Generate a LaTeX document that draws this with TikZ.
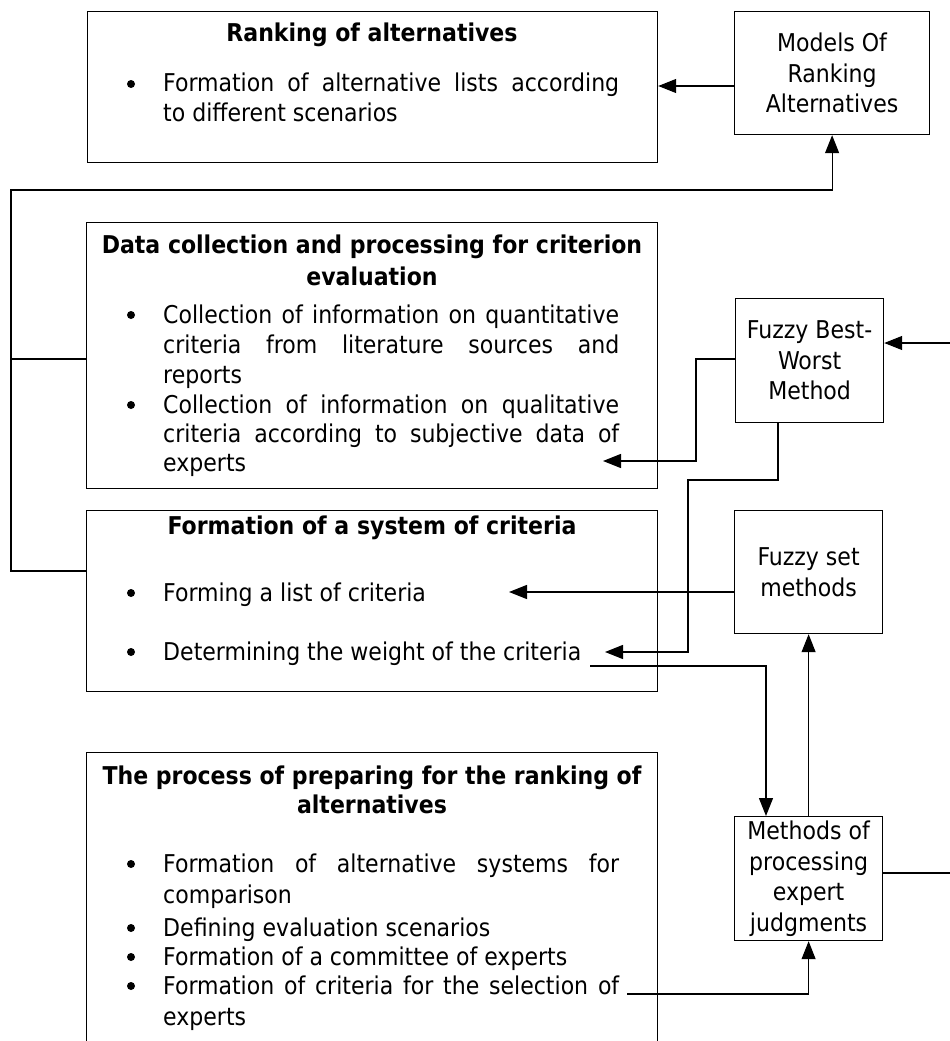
\documentclass[tikz,border=0pt]{standalone}
\usepackage{fontspec}
\setmainfont{DejaVu Sans Condensed}
\usetikzlibrary{arrows.meta}
\begin{document}
\begin{tikzpicture}[x=1pt,y=-1pt,
  box/.style={draw, line width=1.2pt, inner sep=0pt, anchor=north west},
  small/.style={box, minimum width=148pt, align=center,
    font=\fontsize{24.5}{30.5}\selectfont},
  conn/.style={line width=1.2pt},
  arr/.style={conn, -{Triangle[length=18pt,width=14pt]}},
  ttl/.style={inner sep=0pt, anchor=base, font=\bfseries\fontsize{24.5}{29}\selectfont},
  txt/.style={inner sep=0pt, anchor=base west, font=\fontsize{24.5}{29}\selectfont},
  dot/.style={circle, fill, inner sep=0pt, minimum size=8pt}]
\useasboundingbox (0,0) rectangle (950,1041);
\clip (0,0) rectangle (950,1041);

% main process boxes
\node[box, minimum width=570pt, minimum height=151pt] (rk) at (87,11) {};
\node[box, minimum width=571pt, minimum height=266pt] (dc) at (86,222) {};
\node[box, minimum width=571pt, minimum height=181pt] (fs) at (86,510) {};
\node[box, minimum width=571pt, minimum height=320pt] (pp) at (86,752) {};

% method boxes
\node[small, minimum width=195pt, minimum height=123pt] (mdl) at (734,11) {Models Of\\Ranking\\Alternatives};
\node[small, minimum height=124pt] (fbw) at (735,298) {Fuzzy Best-\\Worst\\Method};
\node[small, minimum height=123pt] (fsm) at (734,510) {Fuzzy set\\methods};
\node[small, minimum height=124pt] (mpe) at (734,816) {Methods of\\processing\\expert\\judgments};

% Ranking of alternatives
\node[ttl] (rkT) at (372,42) {Ranking of alternatives};
\node[dot] (rkB1) at (131,84) {};
\node[txt] (rkL1) at (163,92) {\makebox[456pt][s]{Formation of alternative lists according}};
\node[txt] (rkL2) at (163,121) {to different scenarios};

% Data collection
\node[ttl] (dcT1) at (372,253) {Data collection and processing for criterion};
\node[ttl] (dcT2) at (372,285) {evaluation};
\node[dot] (dcB1) at (131,315) {};
\node[txt] (dcL1) at (163,323) {\makebox[456pt][s]{Collection of information on quantitative}};
\node[txt] (dcL2) at (163,353) {\makebox[456pt][s]{criteria from literature sources and}};
\node[txt] (dcL3) at (163,383) {reports};
\node[dot] (dcB2) at (131,405) {};
\node[txt] (dcL4) at (163,413) {\makebox[456pt][s]{Collection of information on qualitative}};
\node[txt] (dcL5) at (163,442) {\makebox[456pt][s]{criteria according to subjective data of}};
\node[txt] (dcL6) at (163,471) {experts};

% Formation of a system of criteria
\node[ttl] (fsT) at (372,534) {Formation of a system of criteria};
\node[dot] (fsB1) at (131,593) {};
\node[txt] (fsL1) at (163,601) {Forming a list of criteria};
\node[dot] (fsB2) at (131,652) {};
\node[txt] (fsL2) at (163,660) {Determining the weight of the criteria};

% Preparing for the ranking
\node[ttl] (ppT1) at (372,784) {The process of preparing for the ranking of};
\node[ttl] (ppT2) at (372,813) {alternatives};
\node[dot] (ppB1) at (131,864) {};
\node[txt] (ppL1) at (163,872) {\makebox[456pt][s]{Formation of alternative systems for}};
\node[txt] (ppL2) at (163,903) {comparison};
\node[dot] (ppB2) at (131,928) {};
\node[txt] (ppL3) at (163,936) {Defining evaluation scenarios};
\node[dot] (ppB3) at (131,957) {};
\node[txt] (ppL4) at (163,965) {Formation of a committee of experts};
\node[dot] (ppB4) at (131,986) {};
\node[txt] (ppL5) at (163,994) {\makebox[456pt][s]{Formation of criteria for the selection of}};
\node[txt] (ppL6) at (163,1025) {experts};

% levels and free ends of connectors
\coordinate (y85) at (0,86);
\coordinate (y343) at (0,343);
\coordinate (y359) at (0,359);
\coordinate (y571) at (0,571);
\coordinate (y592) at (0,592);
\coordinate (y873) at (0,873);
\coordinate (x766) at (766,0);
\coordinate (x778) at (778,0);
\coordinate (railL) at (11,190);
\coordinate (railR) at (968,343);
\coordinate (dcExp) at (603,461);
\coordinate (fsList) at (509,592);
\coordinate (fsWeight) at (605,652);
\coordinate (fsWeightOut) at (590,666);
\coordinate (ppSel) at (627,994);

% connectors
\draw[arr] (mdl.west |- y85) -- (rk.east |- y85);
\draw[arr] (fs.west |- y571) -- (railL |- y571) -- (railL) -| (mdl.south);
\draw[conn] (dc.west |- y359) -- (railL |- y359);
\draw[arr] (mpe.east |- y873) -- (railR |- y873) -- (railR) -- (fbw.east |- y343);
\draw[arr] (fbw.west |- y359) -- (696,359) -- (696,461) -- (dcExp);
\draw[arr] (fbw.south -| x778) -- (778,480) -- (688,480) -- (688,652) -- (fsWeight);
\draw[arr] (fsm.west |- y592) -- (fsList);
\draw[arr] (fsWeightOut) -- (766,666) -- (mpe.north -| x766);
\draw[arr] (mpe.north) -- (fsm.south);
\draw[arr] (ppSel) -| (mpe.south);
\end{tikzpicture}
\end{document}
